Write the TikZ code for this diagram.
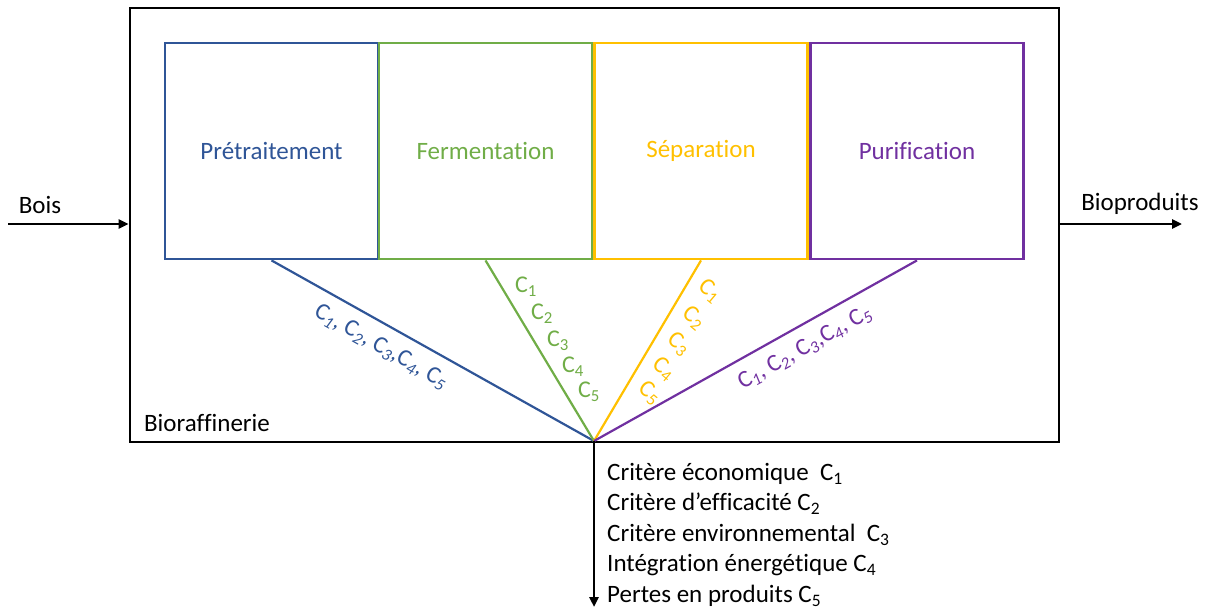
\documentclass[tikz,border=0pt]{standalone}
\usepackage{fontspec}
\setmainfont[Ligatures=NoCommon]{Carlito}
\usetikzlibrary{arrows.meta}
\definecolor{cblue}{HTML}{2F5597}
\definecolor{cgreen}{HTML}{70AD47}
\definecolor{cyellow}{HTML}{FFC000}
\definecolor{cpurple}{HTML}{7030A0}
\newcommand{\sbi}[1]{\textsubscript{\itshape #1}}
\newcommand{\sbu}[1]{\textsubscript{#1}}
\begin{document}
\begin{tikzpicture}[x=1pt,y=-1pt,
  stagebox/.style={draw=#1,line width=2.8pt,minimum width=213pt,minimum height=216pt,inner sep=0pt,text=#1,font=\fontsize{25}{29}\selectfont},
  plain/.style={font=\fontsize{25}{29}\selectfont,inner sep=0pt},
  conn/.style={line width=2.2pt,draw=#1},
  flow/.style={line width=2.8pt,-{Triangle[length=10pt,width=9pt]}},
  crit/.style={text=#1,font=\fontsize{24}{28}\selectfont,inner sep=0pt}]
\useasboundingbox (0,0) rectangle (1206,610);
\node[draw,line width=2.8pt,minimum width=929pt,minimum height=434pt,inner sep=0pt] (bio) at (594.5,225) {};
\node[stagebox=cblue] (pre) at (271.5,151) {Prétraitement};
\node[stagebox=cgreen] (fer) at (485.5,151) {Fermentation};
\node[stagebox=cyellow] (sep) at (701,151) {Séparation};
\node[stagebox=cpurple] (pur) at (917,151) {Purification};
\coordinate (apex) at (594,441);
\coordinate (inL) at (8,224);
\coordinate (outR) at (1182,224);
\coordinate (down) at (594,607);
\draw[conn=cblue] (pre.south) -- (apex);
\draw[conn=cgreen] (fer.south) -- (apex);
\draw[conn=cyellow] (sep.south) -- (apex);
\draw[conn=cpurple] (pur.south) -- (apex);
\draw[flow] (inL) -- (bio.west |- inL);
\draw[flow] (bio.east |- outR) -- (outR);
\draw[flow] (apex) -- (down);
\node[plain] (bois) at (40,205) {Bois};
\node[plain] (biop) at (1140,204) {Bioproduits};
\node[plain] (raf) at (207,423) {Bioraffinerie};
\node[crit=cblue,rotate=-29.4] (lblue) at (381,347) {C\sbi{1}, C\sbi{2}, C\sbi{3},C\sbi{4}, C\sbi{5}};
\node[crit=cpurple,rotate=29.3] (lpur) at (805,348) {C\sbi{1}, C\sbi{2}, C\sbi{3},C\sbi{4}, C\sbi{5}};
\node[crit=cgreen] (g1) at (526,287) {C\sbu{1}};
\node[crit=cgreen] (g2) at (542,314) {C\sbu{2}};
\node[crit=cgreen] (g3) at (558,341) {C\sbu{3}};
\node[crit=cgreen] (g4) at (573,367) {C\sbu{4}};
\node[crit=cgreen] (g5) at (589,392) {C\sbu{5}};
\node[crit=cyellow,rotate=-40] (y1) at (710,291) {C\sbu{1}};
\node[crit=cyellow,rotate=-40] (y2) at (694,318) {C\sbu{2}};
\node[crit=cyellow,rotate=-40] (y3) at (679,344) {C\sbu{3}};
\node[crit=cyellow,rotate=-40] (y4) at (664,369) {C\sbu{4}};
\node[crit=cyellow,rotate=-40] (y5) at (650,393) {C\sbu{5}};
\node[plain,anchor=north west,align=left,font=\fontsize{25}{30.5}\selectfont] (crits) at (607,463)
 {Critère économique\ \ C\sbu{1}\\Critère d’efficacité C\sbu{2}\\Critère environnemental\ \ C\sbu{3}\\Intégration énergétique C\sbu{4}\\Pertes en produits C\sbu{5}};
\end{tikzpicture}
\end{document}
